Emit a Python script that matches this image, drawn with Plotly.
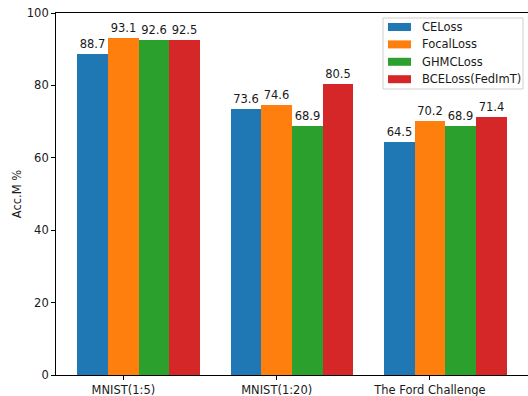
import plotly.graph_objects as go

categories = ["MNIST(1:5)", "MNIST(1:20)", "The Ford Challenge"]
series_names = ["CELoss", "FocalLoss", "GHMCLoss", "BCELoss(FedImT)"]
ce_loss = [88.7, 73.6, 64.5]
focal_loss = [93.1, 74.6, 70.2]
ghmc_loss = [92.6, 68.9, 68.9]
bce_loss = [92.5, 80.5, 71.4]
y_ticks = [0, 20, 40, 60, 80, 100]

series_values = [ce_loss, focal_loss, ghmc_loss, bce_loss]
colors = ["#1f77b4", "#ff7f0e", "#2ca02c", "#d62728"]
bar_w = 0.2
FONT = "DejaVu Sans"
FS = 11.5
TXT = "#1a1a1a"

fig = go.Figure()
for k, (name, vals, col) in enumerate(zip(series_names, series_values, colors)):
    offset = (k - 1) * bar_w
    fig.add_trace(go.Bar(
        x=[i + offset for i in range(len(categories))],
        y=vals,
        width=bar_w,
        name=name,
        marker=dict(color=col, line=dict(width=0)),
        text=[f"{v:.1f}" for v in vals],
        textposition="outside",
        textangle=0,
        constraintext="none",
        cliponaxis=False,
        textfont=dict(family=FONT, size=FS, color=TXT),
        showlegend=False,
    ))

# legend box drawn with shapes in paper coordinates
W, H = 528, 396
ml, mr, mt, mb = 56, 0, 13, 21
pw, ph = W - ml - mr, H - mt - mb

def px_x(x):
    return (x - ml) / pw

def px_y(y):
    return 1 - (y - mt) / ph

shapes = [dict(type="rect", xref="paper", yref="paper",
               x0=px_x(383), x1=px_x(523), y0=px_y(89), y1=px_y(18),
               line=dict(color="#d0d0d0", width=1), fillcolor="rgba(255,255,255,0.8)",
               layer="above")]
annotations = []
for k, (name, col) in enumerate(zip(series_names, colors)):
    cy = 27 + k * 17.4
    shapes.append(dict(type="rect", xref="paper", yref="paper",
                       x0=px_x(388), x1=px_x(411), y0=px_y(cy + 4), y1=px_y(cy - 4),
                       line=dict(width=0), fillcolor=col, layer="above"))
    annotations.append(dict(xref="paper", yref="paper", x=px_x(420), y=px_y(cy),
                            xanchor="left", yanchor="middle", text=name, showarrow=False,
                            font=dict(family=FONT, size=FS, color=TXT)))

axis_common = dict(showline=True, linecolor="black", linewidth=0.9,
                   ticks="outside", ticklen=4, tickwidth=0.9, tickcolor="black",
                   showgrid=False, zeroline=False,
                   tickfont=dict(family=FONT, size=FS, color=TXT))

fig.update_layout(
    width=W, height=H,
    margin=dict(l=ml, r=mr, t=mt, b=mb),
    paper_bgcolor="white", plot_bgcolor="white",
    barmode="overlay",
    bargap=0,
    xaxis=dict(range=[-0.44, 2.64], tickvals=list(range(len(categories))),
               ticktext=categories, mirror=True, **axis_common),
    yaxis=dict(range=[0, 100], tickvals=y_ticks, mirror=False,
               title=dict(text="Acc.M %", font=dict(family=FONT, size=FS, color=TXT), standoff=2),
               **axis_common),
    shapes=shapes,
    annotations=annotations,
)

fig.write_html("out.html")
